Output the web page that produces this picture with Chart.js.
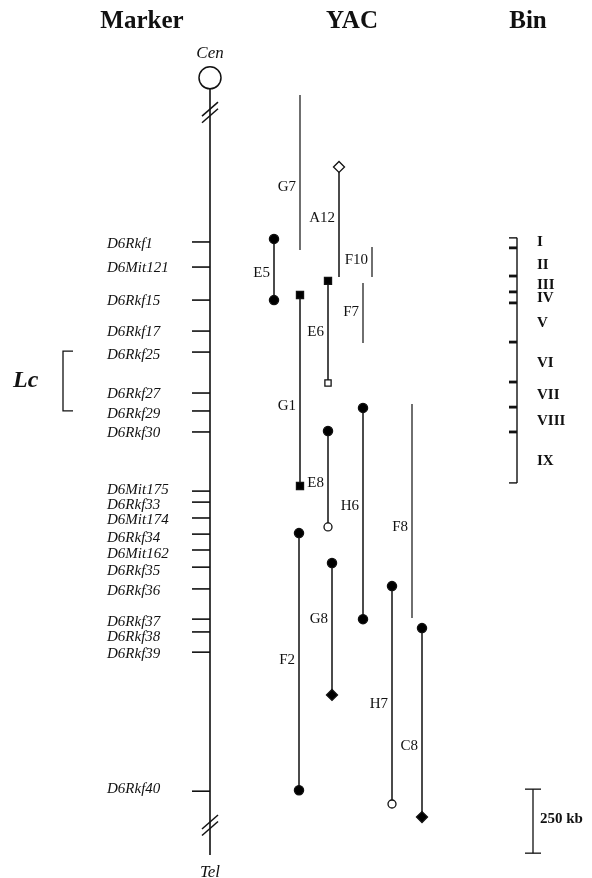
<!DOCTYPE html>
<html>
<head>
<meta charset="utf-8">
<script src="https://cdn.jsdelivr.net/npm/chart.js@4"></script>
<style>
  html, body { margin: 0; padding: 0; background: #fff; }
  #wrap { width: 592px; height: 878px; position: relative; }
</style>
</head>
<body>
<div id="wrap"><canvas id="map"></canvas></div>
<script>
// positions are in kb along the map, 0 = D6Rkf1
const markerNames = ['D6Rkf1','D6Mit121','D6Rkf15','D6Rkf17','D6Rkf25','D6Rkf27','D6Rkf29','D6Rkf30',
  'D6Mit175','D6Rkf33','D6Mit174','D6Rkf34','D6Mit162','D6Rkf35','D6Rkf36','D6Rkf37','D6Rkf38','D6Rkf39','D6Rkf40'];
const markerKb = [0, 98, 227, 348, 430, 590, 660, 742, 973, 1016, 1078, 1141, 1203, 1270, 1355, 1473, 1523, 1602, 2145];
// where each name sits (mostly on its tick, nudged apart where they crowd)
const markerLabelKb = [4, 98, 227, 348, 438, 590, 668, 742, 965, 1024, 1082, 1153, 1215, 1282, 1359, 1481, 1539, 1606, 2133];

const yacNames = ['G7','A12','F10','E5','G1','E6','F7','H6','E8','F8','F2','G8','H7','C8'];
const yacTop = [-574, -293, 20, -12, 207, 152, 160, 648, 738, 633, 1137, 1254, 1344, 1508];
const yacBottom = [31, 137, 137, 227, 953, 551, 395, 1473, 1113, 1469, 2141, 1769, 2195, 2246];
// end types: fc filled circle, oc open circle, fs/os filled/open square, fd/od filled/open diamond
const yacTopEnd = ['', 'od', '', 'fc', 'fs', 'fs', '', 'fc', 'fc', '', 'fc', 'fc', 'fc', 'fc'];
const yacBottomEnd = ['', '', '', 'fc', 'fs', 'os', '', 'fc', 'oc', '', 'fc', 'fd', 'oc', 'fd'];
const yacLabelKb = [-215, -94, 70, 121, 641, 352, 273, 1031, 943, 1113, 1633, 1473, 1805, 1969];

const binNames = ['I','II','III','IV','V','VI','VII','VIII','IX'];
const binLabelKb = [0, 90, 168, 219, 316, 473, 598, 699, 855];
const binBreaksKb = [23, 133, 195, 238, 391, 547, 645, 742];
const binEndsKb = [-16, 941];

const lcKb = [426, 660];
const scaleBarKb = [2137, 2387];

// layout (x in page columns)
const yacX = [300, 339, 372, 274, 300, 328, 363, 363, 328, 412, 299, 332, 392, 422];
const X = { axis: 210, tick: 201, label: 107, bin: 517, binTick: 513, binLabel: 537, lc: 63, scale: 533 };
const Y = { cen: -641, cenLabel: -736, axisTop: -598, breakTop: -506, breakBottom: 2278, axisBottom: 2394, tel: 2463 };
const SERIF = '"Liberation Serif", "DejaVu Serif", serif';

const ends = {
  fc: { style: 'circle', r: 4.6, fill: '#000' },
  oc: { style: 'circle', r: 4, fill: '#fff' },
  fs: { style: 'rect', r: 5, fill: '#000' },
  os: { style: 'rect', r: 4.4, fill: '#fff' },
  fd: { style: 'rectRot', r: 5.5, fill: '#000' },
  od: { style: 'rectRot', r: 5.5, fill: '#fff' },
  '': { style: 'circle', r: 0, fill: '#000' }
};

const datasets = [];

// chromosome axis
datasets.push({
  data: [{ x: X.axis, y: Y.axisTop }, { x: X.axis, y: Y.axisBottom }],
  showLine: true, borderColor: '#111', borderWidth: 1.6, pointRadius: 0
});
// centromere
datasets.push({
  data: [{ x: X.axis, y: Y.cen }],
  pointStyle: 'circle', pointRadius: 11, pointBackgroundColor: '#fff', pointBorderColor: '#111', pointBorderWidth: 1.5
});
// marker ticks
datasets.push({
  data: markerKb.map(v => ({ x: X.tick, y: v })),
  pointStyle: 'line', pointRadius: 9, pointBorderColor: '#111', pointBorderWidth: 1.6
});

// YACs
yacNames.forEach((n, i) => {
  const a = ends[yacTopEnd[i]], b = ends[yacBottomEnd[i]];
  datasets.push({
    label: n,
    data: [{ x: yacX[i], y: yacTop[i] }, { x: yacX[i], y: yacBottom[i] }],
    showLine: true, borderColor: '#111', borderWidth: (a.r || b.r) ? 1.5 : 1.2,
    pointStyle: [a.style, b.style], pointRadius: [a.r, b.r],
    pointBackgroundColor: [a.fill, b.fill], pointBorderColor: '#111', pointBorderWidth: 1.3
  });
});

// bins
datasets.push({
  data: binEndsKb.map(v => ({ x: X.bin, y: v })),
  showLine: true, borderColor: '#111', borderWidth: 1.4, pointRadius: 0
});
datasets.push({
  data: binEndsKb.map(v => ({ x: X.binTick, y: v })),
  pointStyle: 'line', pointRadius: 4, pointBorderColor: '#111', pointBorderWidth: 1.4
});
datasets.push({
  data: binBreaksKb.map(v => ({ x: X.binTick, y: v })),
  pointStyle: 'line', pointRadius: 4, pointBorderColor: '#111', pointBorderWidth: 2.8
});

// Lc bracket
datasets.push({
  data: [{ x: X.lc + 10, y: lcKb[0] }, { x: X.lc, y: lcKb[0] }, { x: X.lc, y: lcKb[1] }, { x: X.lc + 10, y: lcKb[1] }],
  showLine: true, borderColor: '#111', borderWidth: 1.3, pointRadius: 0
});

// scale bar
datasets.push({
  data: scaleBarKb.map(v => ({ x: X.scale, y: v })),
  showLine: true, borderColor: '#111', borderWidth: 1.3,
  pointStyle: 'line', pointRadius: 8, pointBorderColor: '#111', pointBorderWidth: 1.3
});

const textPlugin = {
  id: 'mapText',
  afterDatasetsDraw(chart) {
    const { ctx, scales } = chart;
    const px = v => scales.x.getPixelForValue(v);
    const py = v => scales.y.getPixelForValue(v);
    ctx.save();
    ctx.fillStyle = '#111';
    ctx.strokeStyle = '#111';
    ctx.textBaseline = 'middle';

    // break marks
    ctx.lineWidth = 1.5;
    [Y.breakTop, Y.breakBottom].forEach(v => {
      const cx = px(X.axis), cy = py(v);
      [-3.3, 3.3].forEach(o => {
        ctx.beginPath();
        ctx.moveTo(cx - 8, cy + o + 7);
        ctx.lineTo(cx + 8, cy + o - 7);
        ctx.stroke();
      });
    });

    // column titles
    ctx.textAlign = 'center';
    ctx.font = 'bold 25px ' + SERIF;
    ctx.fillText('Marker', 142, 22);
    ctx.fillText('YAC', 352, 22);
    ctx.fillText('Bin', 528, 22);

    ctx.font = 'italic 17px ' + SERIF;
    ctx.fillText('Cen', px(X.axis), py(Y.cenLabel));
    ctx.fillText('Tel', px(X.axis), py(Y.tel));

    // marker names
    ctx.textAlign = 'left';
    ctx.font = 'italic 15px ' + SERIF;
    markerNames.forEach((n, i) => ctx.fillText(n, px(X.label), py(markerLabelKb[i]) + 1));

    ctx.font = 'bold italic 24px ' + SERIF;
    ctx.fillText('Lc', 13, py((lcKb[0] + lcKb[1]) / 2));

    // bin names
    ctx.font = 'bold 15px ' + SERIF;
    binNames.forEach((n, i) => ctx.fillText(n, px(X.binLabel), py(binLabelKb[i])));
    ctx.fillText('250 kb', px(X.scale) + 7, py((scaleBarKb[0] + scaleBarKb[1]) / 2) - 2);

    // YAC names
    ctx.textAlign = 'right';
    ctx.font = '15px ' + SERIF;
    yacNames.forEach((n, i) => ctx.fillText(n, px(yacX[i]) - 4, py(yacLabelKb[i])));
    ctx.restore();
  }
};

new Chart(document.getElementById('map'), {
  type: 'scatter',
  data: { datasets },
  options: {
    responsive: true,
    maintainAspectRatio: false,
    animation: false,
    events: [],
    layout: { padding: 0, autoPadding: false },
    plugins: { legend: { display: false }, tooltip: { enabled: false } },
    scales: {
      x: { type: 'linear', display: false, min: 0, max: 592 },
      y: { type: 'linear', display: false, reverse: true, min: -945, max: 2484 }
    }
  },
  plugins: [textPlugin]
});
</script>
</body>
</html>
